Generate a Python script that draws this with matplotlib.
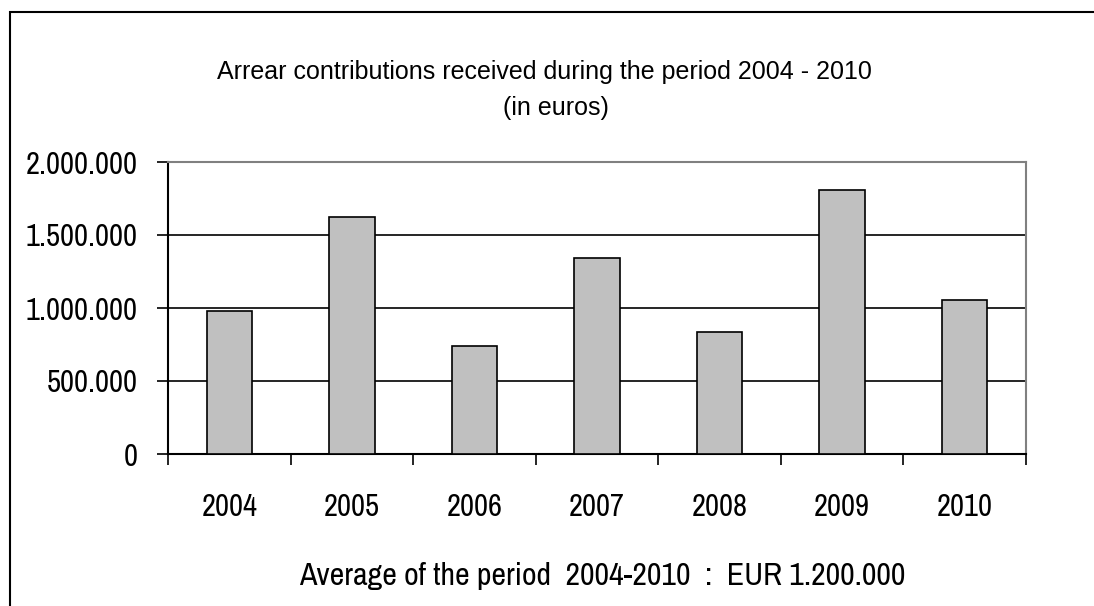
import matplotlib.pyplot as plt
from matplotlib.patches import Rectangle
from matplotlib.ticker import FixedLocator, FuncFormatter

years = ["2004", "2005", "2006", "2007", "2008", "2009", "2010"]
amounts = [981000, 1625000, 740000, 1340000, 833000, 1806000, 1053000]
y_ticks = [0, 500000, 1000000, 1500000, 2000000]

plt.rcParams["font.family"] = ["Liberation Sans", "DejaVu Sans"]
narrow = ["Archivo Narrow", "Liberation Sans"]

W, H = 1094, 606
fig = plt.figure(figsize=(W / 100, H / 100), dpi=100)

# outer chart frame (right and bottom edges run off the picture)
fig.patches.append(Rectangle((10 / W, -0.1), 1.2, (H - 12) / H + 0.1,
                             transform=fig.transFigure, fill=False,
                             edgecolor="black", linewidth=1.5))

left, right, top, bottom = 168, 1026, 162, 454
ax = fig.add_axes([left / W, 1 - bottom / H, (right - left) / W, (bottom - top) / H])

x = range(len(years))
ax.bar(x, amounts, width=0.37, color="#c0c0c0", edgecolor="black", linewidth=1.2, zorder=3)

ax.set_xlim(-0.5, len(years) - 0.5)
ax.set_ylim(0, 2000000)

ax.yaxis.set_major_locator(FixedLocator(y_ticks))
ax.yaxis.set_major_formatter(FuncFormatter(lambda v, p: "{:,.0f}".format(v).replace(",", ".")))
ax.grid(axis="y", color="black", linewidth=1.2, zorder=1)

ax.set_xticks([i - 0.5 for i in range(len(years) + 1)])
ax.set_xticklabels([])
ax.set_xticks(list(x), minor=True)
ax.set_xticklabels(years, minor=True)
ax.tick_params(axis="x", which="major", direction="out", length=8, width=1.2)
ax.tick_params(axis="x", which="minor", length=0, pad=28)
ax.tick_params(axis="y", direction="out", length=8, width=1.2, pad=14)
for lab in ax.get_xticklabels(minor=True) + ax.get_yticklabels():
    lab.set_family(narrow)
    lab.set_fontsize(22)

for s in ["left", "bottom"]:
    ax.spines[s].set_color("black")
    ax.spines[s].set_linewidth(1.5)
for s in ["top", "right"]:
    ax.spines[s].set_color("#808080")
    ax.spines[s].set_linewidth(1.5)

fig.text(544 / W, 1 - 72 / H, "Arrear contributions received during the period 2004 - 2010",
         ha="center", va="center", fontsize=18)
fig.text(556 / W, 1 - 108 / H, "(in euros)", ha="center", va="center", fontsize=18)
fig.text(602 / W, 1 - 576 / H, "Average of the period  2004-2010  :  EUR 1.200.000",
         ha="center", va="center", fontsize=23, family=narrow)

fig.savefig("out.png", dpi=100)
